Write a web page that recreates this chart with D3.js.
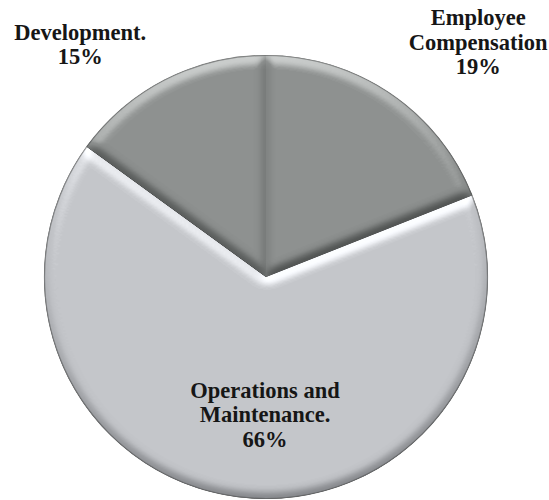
<!DOCTYPE html>
<html>
<head>
<meta charset="utf-8">
<script src="https://cdn.jsdelivr.net/npm/d3@7"></script>
<style>
  html, body { margin: 0; padding: 0; background: #fff; }
  svg { display: block; }
</style>
</head>
<body>
<svg id="chart" width="549" height="500"></svg>
<script>
// Budget shares, clockwise from 12 o'clock
const categories = ["Employee Compensation", "Operations and Maintenance.", "Development."];
const values = [19, 66, 15];
const nameLines = [["Employee", "Compensation"], ["Operations and", "Maintenance."], ["Development."]];

// Slice shading
const sliceColors = ["#8d908f", "#c3c5c9", "#8d908f"];

// Label anchors in polar form: angle (deg, clockwise from top) and radius factor
const labelPolar = [[42.1, 1.426], [180.4, 0.618], [-38.6, 1.342]];

const width = 549, height = 500;
const cx = 266, cy = 277, radius = 222;
const fontSize = 22.5, lineHeight = 24.5;

const svg = d3.select("#chart");
const defs = svg.append("defs");

// Soft bevel: light the blurred slice alpha from above, reshape the light so
// shadows stay gentle, then add the offset back onto the slice fill.
const bevel = defs.append("filter")
  .attr("id", "bevel")
  .attr("x", "-10%").attr("y", "-10%")
  .attr("width", "120%").attr("height", "120%")
  .attr("color-interpolation-filters", "sRGB");
bevel.append("feGaussianBlur")
  .attr("in", "SourceAlpha").attr("stdDeviation", 5.5).attr("result", "blur");
bevel.append("feDiffuseLighting")
  .attr("in", "blur").attr("surfaceScale", 7).attr("diffuseConstant", 1)
  .attr("lighting-color", "#ffffff").attr("result", "light")
  .append("feDistantLight").attr("azimuth", 265).attr("elevation", 45);
const curve = "0.27 0.304 0.338 0.372 0.406 0.44 0.474 0.498 0.578 0.66 0.74";
const ct = bevel.append("feComponentTransfer").attr("in", "light").attr("result", "shade");
["feFuncR", "feFuncG", "feFuncB"].forEach(f =>
  ct.append(f).attr("type", "table").attr("tableValues", curve));
bevel.append("feComposite")
  .attr("in", "SourceGraphic").attr("in2", "shade")
  .attr("operator", "arithmetic")
  .attr("k1", 0).attr("k2", 1).attr("k3", 1).attr("k4", -0.5)
  .attr("result", "lit");
bevel.append("feComposite")
  .attr("in", "lit").attr("in2", "SourceAlpha").attr("operator", "in");

const pie = d3.pie().sort(null).value(d => d);
const arcs = pie(values);
const arc = d3.arc().innerRadius(0).outerRadius(radius);

const g = svg.append("g").attr("transform", `translate(${cx},${cy})`);

// Backing disc hides anti-aliasing seams between slices
g.append("circle").attr("r", radius - 1).attr("fill", "#a6a8a9");

g.selectAll("path.slice")
  .data(arcs)
  .join("path")
  .attr("class", "slice")
  .attr("d", arc)
  .attr("fill", (d, i) => sliceColors[i])
  .attr("filter", "url(#bevel)");

// Thin rim line around the pie
g.append("circle")
  .attr("r", radius - 0.5)
  .attr("fill", "none")
  .attr("stroke", "rgba(70,72,72,0.5)")
  .attr("stroke-width", 1.2);

// Labels
const labels = svg.append("g")
  .attr("font-family", "'Liberation Serif', 'Times New Roman', serif")
  .attr("font-weight", "bold")
  .attr("font-size", fontSize)
  .attr("fill", "#161616")
  .attr("text-anchor", "middle");

arcs.forEach((a, i) => {
  const [deg, k] = labelPolar[i];
  const t = deg * Math.PI / 180;
  const x = cx + Math.sin(t) * radius * k;
  const y = cy - Math.cos(t) * radius * k;
  const lines = nameLines[i].concat([`${values[i]}%`]);
  const n = lines.length;
  const text = labels.append("text");
  lines.forEach((line, j) => {
    text.append("tspan")
      .attr("x", x)
      .attr("y", y + (j - (n - 1) / 2) * lineHeight + 0.35 * fontSize)
      .text(line);
  });
});
</script>
</body>
</html>
